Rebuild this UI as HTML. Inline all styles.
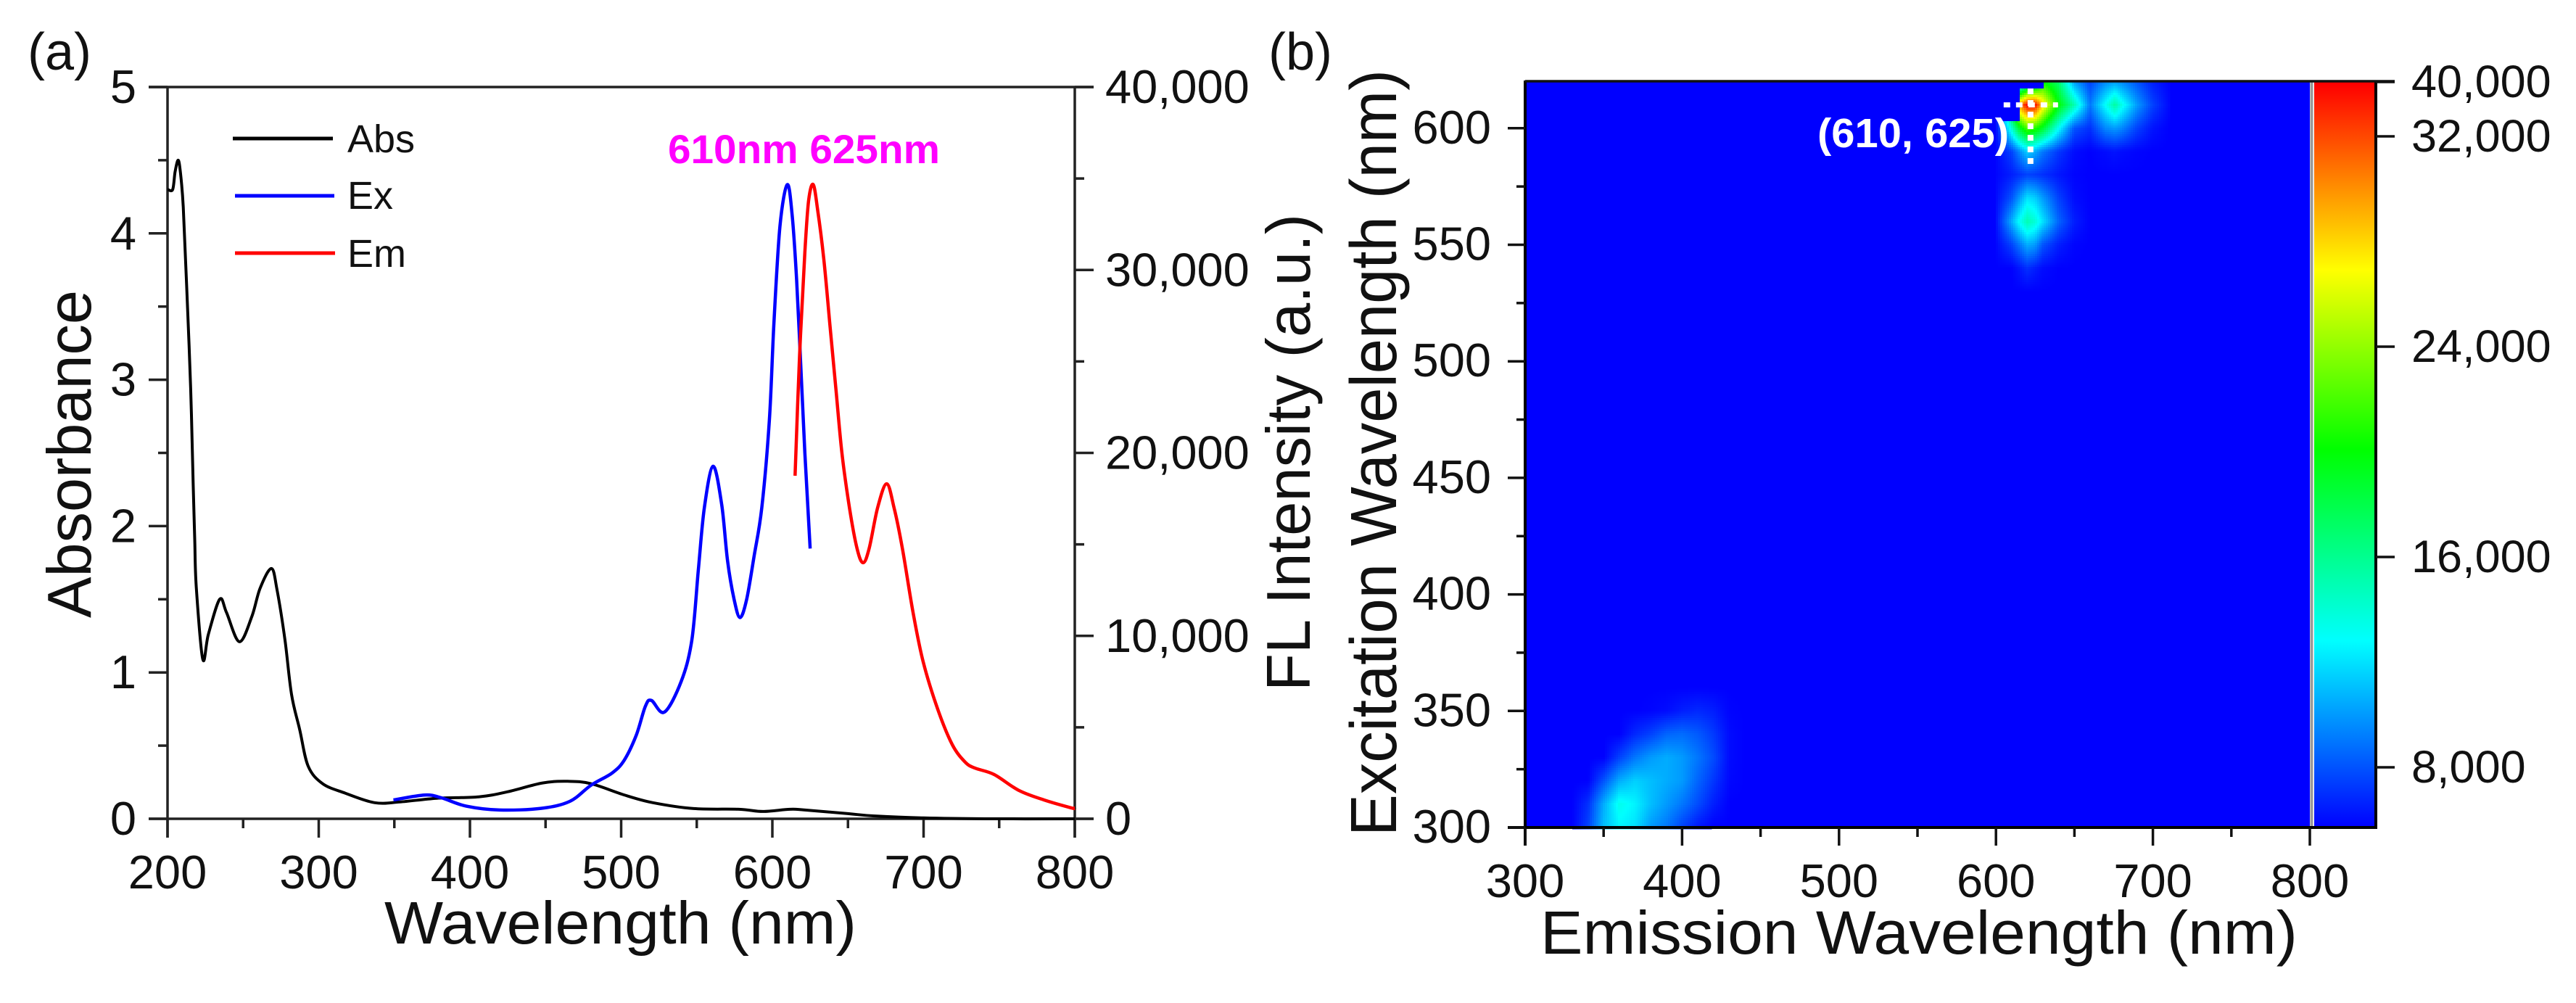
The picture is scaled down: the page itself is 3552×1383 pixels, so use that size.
<!DOCTYPE html>
<html lang="en">
<head>
<meta charset="utf-8">
<title>Absorbance, excitation and emission spectra with excitation-emission map</title>
<style>
html,body{margin:0;padding:0;background:#fff;width:3552px;height:1383px;overflow:hidden}
svg{display:block}
text{font-family:"Liberation Sans",sans-serif;fill:#111}
</style>
</head>
<body>
<svg id="figure" xmlns="http://www.w3.org/2000/svg" width="3552" height="1383" viewBox="0 0 3552 1383">
  <rect x="0" y="0" width="3552" height="1383" fill="#fff"/>

  <text x="38" y="96" font-size="72">(a)</text>
  <text x="1749" y="96" font-size="72">(b)</text>

  <g id="panelA"></g>
  <g id="panelB"></g>

  <text transform="translate(125,852) rotate(-90)" font-size="85" textLength="452" lengthAdjust="spacingAndGlyphs">Absorbance</text>
  <text x="530" y="1301" font-size="83" textLength="651" lengthAdjust="spacingAndGlyphs">Wavelength (nm)</text>
  <text transform="translate(1806,953) rotate(-90)" font-size="85" textLength="658" lengthAdjust="spacingAndGlyphs">FL Intensity (a.u.)</text>

  <g>
    <line x1="321" y1="191" x2="459" y2="191" stroke="#000" stroke-width="5"/>
    <text x="479" y="210" font-size="54">Abs</text>
    <line x1="324" y1="270" x2="461" y2="270" stroke="#0000ff" stroke-width="5"/>
    <text x="479" y="288" font-size="54">Ex</text>
    <line x1="324" y1="349" x2="462" y2="349" stroke="#ff0000" stroke-width="5"/>
    <text x="479" y="368" font-size="54">Em</text>
  </g>
  <text x="921" y="225" font-size="56" font-weight="700" style="fill:#ff00ff" textLength="375" lengthAdjust="spacingAndGlyphs">610nm 625nm</text>

  <text transform="translate(1925,1153) rotate(-90)" font-size="90" textLength="1057" lengthAdjust="spacingAndGlyphs">Excitation Wavelength (nm)</text>
  <text x="2124" y="1315" font-size="84" textLength="1044" lengthAdjust="spacingAndGlyphs">Emission Wavelength (nm)</text>
</svg>

<script>
// ---- Panel (a) data ----
const absWavelengths = [200,203.4,205,207,208.5,210.4,212.6,215.3,217,218,219,223.3,227,234.5,239,247.5,255.7,261.2,268.7,272.4,277.7,282,287.4,293,302.6,317.6,337,353.6,378,405.8,425,448,464.6,480,502,521,548,578,593.7,611.6,621.6,650,666.7,700,741,800];
const absValues = [4.30,4.30,4.42,4.50,4.42,4.18,3.65,2.94,2.28,1.91,1.585,1.09,1.26,1.50,1.41,1.21,1.38,1.575,1.71,1.565,1.22,0.85,0.61,0.36,0.24,0.175,0.11,0.115,0.14,0.15,0.185,0.245,0.256,0.24,0.163,0.11,0.07,0.065,0.05,0.065,0.06,0.035,0.02,0.006,0,0];
const exWavelengths = [349.4,370,381,397.6,419.6,447,466,480,494,502,510,516,520,528.6,539.7,546.7,551,555,560.8,566.5,570.4,574.7,578.6,583,588,593,598,601,605,609.8,613,616,619,621.5,623.5,625];
const exCounts = [1030,1300,1150,690,480,570,950,1830,2500,3200,4575,6150,6470,5830,7510,9750,13550,17000,19270,17160,14080,12000,11000,12000,14400,17000,21750,27060,32370,34660,33070,29500,24400,20000,17000,14770];
const emWavelengths = [615,618,621.5,624,627,630,634,638,642,646,651,656,660,664,669.6,675.6,680.5,686,693,699.8,709.5,719,727.5,734,746.7,763,779.6,797.6,800];
const emCounts = [18750,25300,30960,33800,34670,33260,30600,27060,23500,20000,17000,14770,14000,14770,17000,18310,17000,14770,11300,8560,5960,4050,3100,2770,2420,1550,1030,600,590];
const wavelengthTicks = [200,300,400,500,600,700,800];
const wavelengthMinorTicks = [250,350,450,550,650,750];
const absorbanceTicks = [0,1,2,3,4,5];
const absorbanceMinorTicks = [0.5,1.5,2.5,3.5,4.5];
const countTicks = [0,10000,20000,30000,40000];
const countMinorTicks = [5000,15000,25000,35000];

// ---- Panel (b) data (kilocounts) ----
const lowEmGrid = [330,340,350,360,370,380,390,400,410,420,430,440];
const lowExGrid = [300,310,320,330,340,350,360];
const lowKiloCounts = [
  [5.7,7.5,11,12.5,12,10,9,7.5,6.3,5.7,5.7,5.7],
  [5.7,7,10.5,13.3,12.5,11,10,9,7.8,6.5,5.7,5.7],
  [5.7,5.7,8,10.5,11.5,11,10.5,10,8.5,7.2,5.9,5.7],
  [5.7,5.7,5.7,7.5,9,10,10.5,10,9,7.8,6,5.7],
  [5.7,5.7,5.7,5.7,6.8,7.5,8.5,8.7,8.2,7.3,6,5.7],
  [5.7,5.7,5.7,5.7,5.7,5.8,6,6.5,6.8,6.5,5.8,5.7],
  [5.7,5.7,5.7,5.7,5.7,5.7,5.7,5.7,5.7,5.7,5.7,5.7]
];
const highEmGrid = [600,610,615,620,625,630,640,650,660,670,676,680,690,700,710];
const highExGrid = [530,540,550,560,570,580,590,600,610,620];
const highKiloCounts = [
  [5.7,5.7,5.7,5.7,5.7,5.7,5.7,5.7,5.7,5.7,5.7,5.7,5.7,5.7,5.7],
  [5.7,5.7,6.3,7,6.5,6,5.7,5.7,5.7,5.7,5.7,5.7,5.7,5.7,5.7],
  [5.8,7.5,9,10.5,10,8,6.5,5.8,5.7,5.7,5.7,5.7,5.7,5.7,5.7],
  [6,10.5,13,15,14,12,8.5,6.5,5.7,5.7,5.7,5.7,5.7,5.7,5.7],
  [5.9,8,10,12,11.5,10,7.5,6,5.7,5.7,5.7,5.7,5.7,5.7,5.7],
  [5.8,6.5,7,7.5,7.3,7,6.3,5.8,5.7,5.7,5.7,5.7,5.7,5.7,5.7],
  [5.8,7.5,9.5,11.5,10.5,9,7.2,6,5.7,6,6.2,6,5.8,5.7,5.7],
  [5.8,14,19,22,21,19,13,8,7,9.5,10,9.5,7.5,6.2,5.7],
  [5.8,20,30,34,34,28,20,15,9,13,15.5,13.5,10,7.5,6],
  [5.8,6,8,12,14,20,17,10,7.5,9.5,10,9.5,8,6.5,5.8]
];
const scatterEdgeEx = [603,617.5];
const scatterEdgeEm = [615,630];
const colormapKilo = [5.7,12.8,20.1,26.9,34];
const colormapRgb = [[0,0,255],[0,255,255],[0,255,0],[255,255,0],[255,0,0]];
const emissionTicks = [300,400,500,600,700,800];
const emissionMinorTicks = [350,450,550,650,750];
const excitationTicks = [300,350,400,450,500,550,600];
const excitationMinorTicks = [325,375,425,475,525,575];
const colorbarTicks = [8000,16000,24000,32000,40000];
const peakCrossEm = [622];
const peakCrossEx = [610];

// ---- axes ----
const A = {x0:231,x1:1482,y0:1129,y1:120};
const B = {x0:2103,x1:3185,y0:1141,y1:113};
const xA = w => A.x0 + (w-200)/600*(A.x1-A.x0);
const yAbs = v => A.y0 - v/5*(A.y0-A.y1);
const yCount = v => A.y0 - v/40000*(A.y0-A.y1);
const xEm = w => B.x0 + (w-300)/500*2164/2;
const yEx = w => B.y0 - (w-300)/50*160.7;
const emFromX = px => 300 + (px-B.x0)/1082*500;
const exFromY = py => 300 + (B.y0-py)/160.7*50;
const yBar = c => Math.max(B.y1, 1058-(c-8000)/8000*290);

const NS = 'http://www.w3.org/2000/svg';
function make(parent, tag, attrs, txt){
  const n = document.createElementNS(NS, tag);
  for (const k in attrs) n.setAttribute(k, attrs[k]);
  if (txt !== undefined) n.textContent = txt;
  parent.appendChild(n);
  return n;
}
function fmt(v){ return String(v).replace(/\B(?=(\d{3})+$)/g, ','); }

const panelA = document.getElementById('panelA');
const panelB = document.getElementById('panelB');
const AXIS = '#222';

function seg(parent, x1, y1, x2, y2, name, width, color){
  const l = make(parent, 'line', {x1:x1,y1:y1,x2:x2,y2:y2,stroke:color||AXIS,'stroke-width':width||3.5});
  
  
  return l;
}
function label(parent, x, y, text, size, anchor, name){
  const t = make(parent, 'text', {x:x,y:y,'font-size':size,'text-anchor':anchor}, text);
  
  
  return t;
}
// Smooth curve: Catmull-Rom spline through the mapped data points
function curve(parent, xs, ys, xf, yf, color, name, width){
  const P = xs.map((w,i) => [xf(w), yf(ys[i])]);
  let d = 'M' + P[0][0].toFixed(1) + ' ' + P[0][1].toFixed(1);
  for (let i = 0; i < P.length-1; i++){
    const p0 = P[Math.max(i-1,0)], p1 = P[i], p2 = P[i+1], p3 = P[Math.min(i+2,P.length-1)];
    const c1x = p1[0]+(p2[0]-p0[0])/6, c1y = p1[1]+(p2[1]-p0[1])/6;
    const c2x = p2[0]-(p3[0]-p1[0])/6, c2y = p2[1]-(p3[1]-p1[1])/6;
    d += ' C' + c1x.toFixed(1)+' '+c1y.toFixed(1)+' '+c2x.toFixed(1)+' '+c2y.toFixed(1)+' '+p2[0].toFixed(1)+' '+p2[1].toFixed(1);
  }
  const p = make(parent, 'path', {d:d,fill:'none',stroke:color,'stroke-width':width,'stroke-linejoin':'round','stroke-linecap':'butt'});
  
  
  return p;
}

// ---- Panel (a) ----
seg(panelA, A.x0, A.y1-1.5, A.x0, A.y0+26, 'left-y-axis-line');
seg(panelA, A.x1, A.y1-1.5, A.x1, A.y0+26, 'right-y-axis-line');
seg(panelA, A.x0-26, A.y0, A.x1+26, A.y0, 'x-axis-line');
seg(panelA, A.x0-26, A.y1, A.x1+26, A.y1, 'top-axis-line');

wavelengthTicks.forEach(w => {
  seg(panelA, xA(w), A.y0, xA(w), A.y0+26, 'x-major-tick');
  label(panelA, xA(w), 1225, String(w), 65, 'middle', 'x-tick-label');
});
wavelengthMinorTicks.forEach(w => {
  seg(panelA, xA(w), A.y0, xA(w), A.y0+13, 'x-minor-tick');
});
absorbanceTicks.forEach(v => {
  seg(panelA, A.x0-26, yAbs(v), A.x0, yAbs(v), 'absorbance-major-tick');
  label(panelA, 188, yAbs(v)+22, String(v), 65, 'end', 'absorbance-tick-label');
});
absorbanceMinorTicks.forEach(v => {
  seg(panelA, A.x0-13, yAbs(v), A.x0, yAbs(v), 'absorbance-minor-tick');
});
countTicks.forEach(v => {
  seg(panelA, A.x1, yCount(v), A.x1+26, yCount(v), 'intensity-major-tick');
  label(panelA, 1524, yCount(v)+22, fmt(v), 65, 'start', 'intensity-tick-label');
});
countMinorTicks.forEach(v => {
  seg(panelA, A.x1, yCount(v), A.x1+13, yCount(v), 'intensity-minor-tick');
});

curve(panelA, absWavelengths, absValues, xA, yAbs, '#000', 'abs-curve', 4);
curve(panelA, exWavelengths, exCounts, xA, yCount, '#0000ff', 'ex-curve', 4.5);
curve(panelA, emWavelengths, emCounts, xA, yCount, '#ff0000', 'em-curve', 4.5);

// ---- Panel (b) ----
function colorFor(k){
  if (k <= colormapKilo[0]) return 'rgb(0,0,255)';
  for (let i = 1; i < colormapKilo.length; i++){
    if (k <= colormapKilo[i]){
      const t = (k-colormapKilo[i-1])/(colormapKilo[i]-colormapKilo[i-1]);
      const a = colormapRgb[i-1], b = colormapRgb[i];
      return 'rgb('+Math.round(a[0]+(b[0]-a[0])*t)+','+Math.round(a[1]+(b[1]-a[1])*t)+','+Math.round(a[2]+(b[2]-a[2])*t)+')';
    }
  }
  return 'rgb(255,0,0)';
}
function segIndex(grid, v){
  let i = 0;
  while (i < grid.length-2 && v > grid[i+1]) i++;
  return i;
}
function sample(emGrid, exGrid, m, em, ex){
  const i = segIndex(emGrid, em), j = segIndex(exGrid, ex);
  const t = (em-emGrid[i])/(emGrid[i+1]-emGrid[i]);
  const u = (ex-exGrid[j])/(exGrid[j+1]-exGrid[j]);
  return (1-u)*((1-t)*m[j][i]+t*m[j][i+1]) + u*((1-t)*m[j+1][i]+t*m[j+1][i+1]);
}
function isScattered(em, ex){
  for (let i = 0; i < scatterEdgeEx.length; i++){
    if (ex >= scatterEdgeEx[i] && em < scatterEdgeEm[i]) return true;
  }
  return false;
}

const mapBg = make(panelB, 'rect', {x:B.x0,y:B.y1,width:B.x1-B.x0,height:B.y0-B.y1,fill:'#0000ff'});



const cellGroup = make(panelB, 'g', {'shape-rendering':'crispEdges'});



function drawRegion(emGrid, exGrid, m){
  const STEP = 3;
  const left = xEm(emGrid[0]), right = xEm(emGrid[emGrid.length-1]);
  const top = yEx(exGrid[exGrid.length-1]), bottom = yEx(exGrid[0]);
  for (let py = Math.max(top, B.y1); py < bottom; py += STEP){
    for (let px = left; px < right; px += STEP){
      const em = emFromX(px+STEP/2), ex = exFromY(py+STEP/2);
      if (isScattered(em, ex)) continue;
      const k = sample(emGrid, exGrid, m, em, ex);
      if (k <= colormapKilo[0]+0.03) continue;
      const cell = make(cellGroup, 'rect', {x:px.toFixed(1),y:py.toFixed(1),width:STEP+0.4,height:STEP+0.4,fill:colorFor(k)});
      
      
    }
  }
}
drawRegion(lowEmGrid, lowExGrid, lowKiloCounts);
drawRegion(highEmGrid, highExGrid, highKiloCounts);

// peak cross and label
peakCrossEm.forEach((em, i) => {
  const ex = peakCrossEx[i];
  const v = make(panelB, 'line', {x1:xEm(em),y1:122,x2:xEm(em),y2:229,stroke:'#fff','stroke-width':8,'stroke-dasharray':'8 8'});
  
  
  const h = make(panelB, 'line', {x1:xEm(em)-37,y1:yEx(ex),x2:xEm(em)+38,y2:yEx(ex),stroke:'#fff','stroke-width':7,'stroke-dasharray':'9 8'});
  
  
});
const peakLabel = make(panelB, 'text', {x:2506,y:203,'font-size':57,'font-weight':700,style:'fill:#fff',textLength:264,lengthAdjust:'spacingAndGlyphs'}, '(610, 625)');



// colour bar
const defs = make(panelB, 'defs', {});
const grad = make(defs, 'linearGradient', {id:'barGradient',gradientUnits:'userSpaceOnUse',x1:0,y1:yBar(colormapKilo[0]*1000),x2:0,y2:yBar(colormapKilo[4]*1000)});
colormapKilo.forEach((k, i) => {
  const off = (k-colormapKilo[0])/(colormapKilo[4]-colormapKilo[0]);
  make(grad, 'stop', {offset:off,'stop-color':colorFor(k)});
});
const bar = make(panelB, 'rect', {x:3191,y:B.y1,width:84,height:B.y0-B.y1,fill:'url(#barGradient)'});



// frame and axes
seg(panelB, 3187.5, B.y1, 3187.5, B.y0, 'colorbar-separator', 4, '#9a9a9a');
seg(panelB, B.x0, B.y1-2, B.x0, B.y0+25, 'map-y-axis-line', 4, '#000');
seg(panelB, 3276, B.y1-1, 3276, B.y0+2, 'colorbar-axis-line', 4, '#000');
seg(panelB, B.x0-24, B.y0, 3277, B.y0, 'map-x-axis-line', 4, '#000');
seg(panelB, B.x0, B.y1-1, 3302, B.y1-1, 'map-top-line', 3.5, '#111');

emissionTicks.forEach(w => {
  seg(panelB, xEm(w), B.y0, xEm(w), B.y0+25, 'map-x-major-tick', 3.5, '#111');
  label(panelB, xEm(w), 1237, String(w), 65, 'middle', 'map-x-tick-label');
});
emissionMinorTicks.forEach(w => {
  seg(panelB, xEm(w), B.y0, xEm(w), B.y0+13, 'map-x-minor-tick', 3.5, '#111');
});
excitationTicks.forEach(w => {
  seg(panelB, B.x0-24, yEx(w), B.x0, yEx(w), 'map-y-major-tick', 3.5, '#111');
  label(panelB, 2056, yEx(w)+21, String(w), 65, 'end', 'map-y-tick-label');
});
excitationMinorTicks.forEach(w => {
  seg(panelB, B.x0-12, yEx(w), B.x0, yEx(w), 'map-y-minor-tick', 3.5, '#111');
});
colorbarTicks.forEach(v => {
  seg(panelB, 3276, yBar(v), 3302, yBar(v), 'colorbar-tick', 3.5, '#111');
  label(panelB, 3325, yBar(v)+21, fmt(v), 63, 'start', 'colorbar-tick-label');
});
</script>
</body>
</html>
